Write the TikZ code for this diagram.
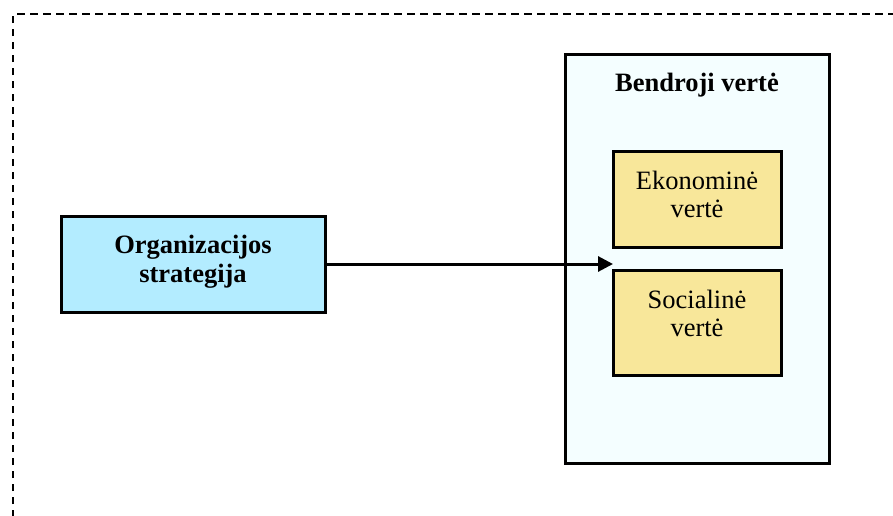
\documentclass[tikz,border=0pt]{standalone}
\usepackage{fontspec}
\setmainfont{Liberation Serif}
\usetikzlibrary{arrows.meta}
\definecolor{stratfill}{HTML}{B3ECFF}
\definecolor{totalfill}{HTML}{F4FEFF}
\definecolor{valuefill}{HTML}{F8E79A}
\tikzset{
  box/.style={draw=black, line width=3pt, inner sep=0pt},
  % base anchor of a two-line label sits on its last line
  label/.style={align=center, inner sep=0pt, anchor=base,
                font=\fontsize{26.5}{28}\selectfont},
  frame/.style={draw=black, line width=1.8pt, dash pattern=on 7.5pt off 5.5pt}
}
\begin{document}
\begin{tikzpicture}[x=1pt, y=-1pt]
  \useasboundingbox (0,0) rectangle (893,515);
  % dashed outer frame, running off the right and bottom edges
  \draw[frame] (13,530) -- (13,14) -- (905,14);
  % overall value container
  \node[box, fill=totalfill, minimum width=264pt, minimum height=409pt] (total) at (697,258.5) {};
  \node[label, font=\bfseries\fontsize{26.5}{28}\selectfont] (title) at (697,91) {Bendroji vertė};
  % value components
  \node[box, fill=valuefill, minimum width=168pt, minimum height=96pt] (eco) at (697,199) {};
  \node[label] (ecotext) at (697,217) {Ekonominė\\vertė};
  \node[box, fill=valuefill, minimum width=168pt, minimum height=105pt] (soc) at (697,322.5) {};
  \node[label] (soctext) at (697,336) {Socialinė\\vertė};
  % strategy
  \node[box, fill=stratfill, minimum width=264pt, minimum height=96pt] (strat) at (193,264) {};
  \node[label, font=\bfseries\fontsize{26.5}{29}\selectfont] (strattext) at (193,282) {Organizacijos\\strategija};
  \coordinate (target) at (613,264);
  \draw[line width=3pt, -{Triangle[length=15pt, width=15pt]}] (strat.east) -- (target);
\end{tikzpicture}
\end{document}
